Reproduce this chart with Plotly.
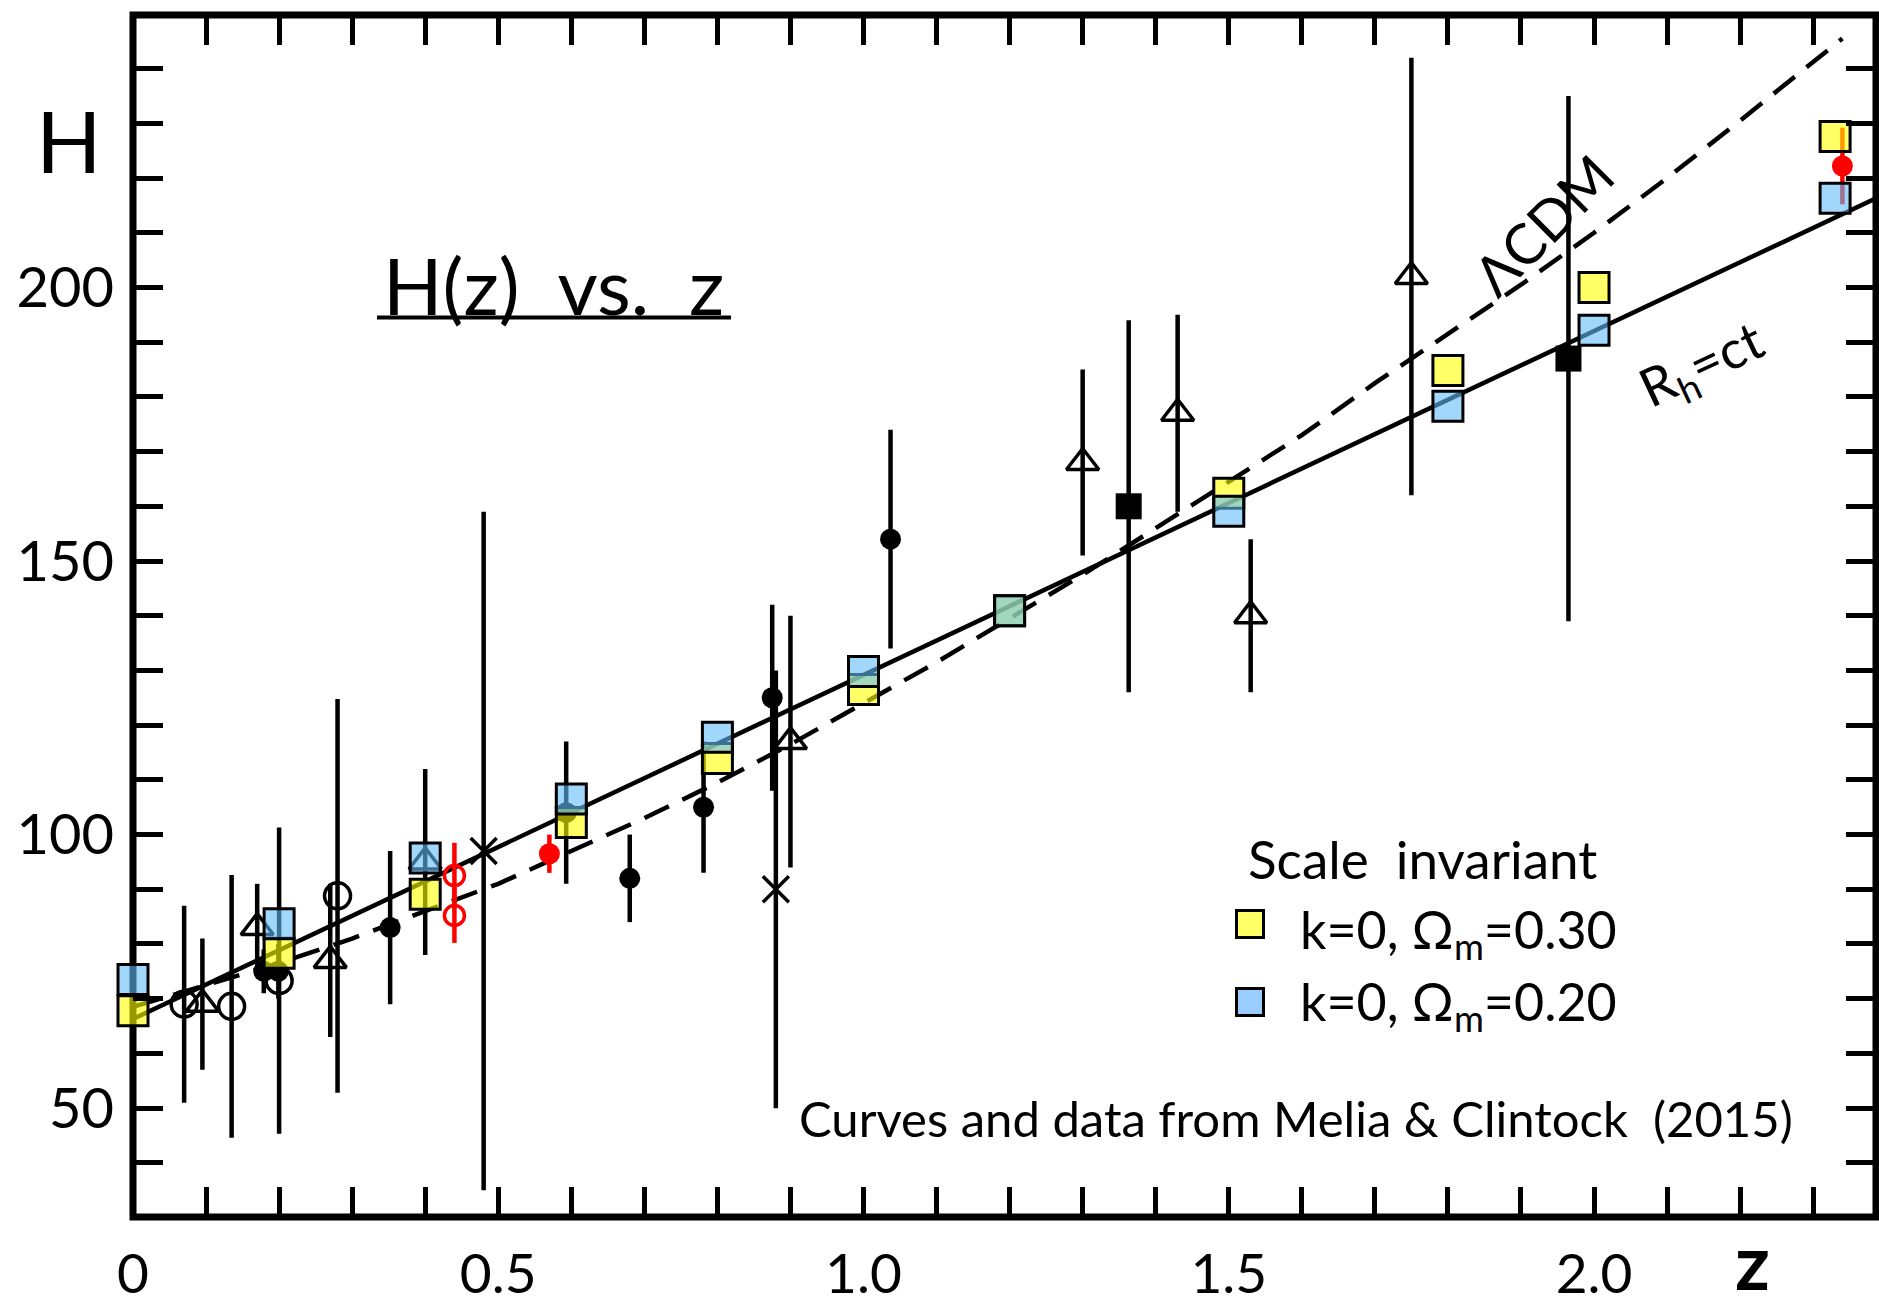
import plotly.graph_objects as go

# ---------------- axis ticks ----------------
x_ticks = [0.0, 0.1, 0.2, 0.3, 0.4, 0.5, 0.6, 0.7, 0.8, 0.9, 1.0, 1.1, 1.2,
           1.3, 1.4, 1.5, 1.6, 1.7, 1.8, 1.9, 2.0, 2.1, 2.2, 2.3]
x_tick_labels = ["0", "", "", "", "", "0.5", "", "", "", "", "1.0", "", "",
                 "", "", "1.5", "", "", "", "", "2.0", "", "", ""]
y_ticks = [40, 50, 60, 70, 80, 90, 100, 110, 120, 130, 140, 150, 160, 170,
           180, 190, 200, 210, 220, 230, 240]
y_tick_labels = ["", "50", "", "", "", "", "100", "", "", "", "", "150", "",
                 "", "", "", "200", "", "", "", ""]

# ---------------- model curves ----------------
lcdm_z = [0.0, 0.1, 0.2, 0.3, 0.4, 0.5, 0.6, 0.7, 0.8, 0.9, 1.0, 1.1, 1.2,
          1.3, 1.4, 1.5, 1.6, 1.7, 1.8, 1.9, 2.0, 2.1, 2.2, 2.34]
lcdm_H = [68.5, 72.5, 76.5, 81.0, 86.0, 91.0, 97.0, 103.0, 109.5, 116.5,
          124.0, 131.5, 139.5, 147.5, 156.0, 164.5, 173.0, 182.5, 191.5,
          200.5, 210.0, 220.0, 230.5, 245.5]
rh_z = [0.0, 0.6, 1.2, 1.8, 2.386]
rh_H = [66.3, 104.0, 141.7, 179.3, 216.3]

# ---------------- scale-invariant model points ----------------
si_z = [0.0, 0.2, 0.4, 0.6, 0.8, 1.0, 1.2, 1.5, 1.8, 2.0, 2.33]
si_H_030 = [67.8, 78.3, 89.1, 102.2, 113.9, 126.5, 140.9, 162.4, 184.8, 200.0, 227.6]
si_H_020 = [73.5, 83.7, 95.7, 106.5, 117.8, 129.8, 140.9, 159.1, 178.3, 192.2, 216.3]

# ---------------- observational data ----------------
# open circles
oc_z = [0.07, 0.135, 0.2, 0.28]
oc_H = [69.0, 68.6, 73.3, 88.8]
oc_err = [18.0, 24.0, 28.0, 36.0]
# open triangles
tri_z = [0.095, 0.17, 0.27, 0.40, 0.90, 1.30, 1.43, 1.53, 1.75]
tri_H = [69.0, 83.0, 77.0, 95.0, 117.0, 168.0, 177.0, 140.0, 202.0]
tri_err = [12.0, 8.0, 14.0, 17.0, 23.0, 17.0, 18.0, 14.0, 40.0]
# crosses
cr_z = [0.48, 0.88]
cr_H = [97.0, 90.0]
cr_err = [62.0, 40.0]
# filled circles
fc_z = [0.179, 0.199, 0.352, 0.593, 0.68, 0.781, 0.875, 1.037]
fc_H = [75.0, 75.0, 83.0, 104.0, 92.0, 105.0, 125.0, 154.0]
fc_err = [4.0, 5.0, 14.0, 13.0, 8.0, 12.0, 17.0, 20.0]
# filled black squares
bs_z = [1.363, 1.965]
bs_H = [160.0, 187.0]
bs_err = [34.0, 48.0]
# red open circles
ro_z = [0.44, 0.44]
ro_H = [92.5, 85.2]
ro_err = [6.0, 5.0]
# red filled circles
rf_z = [0.57, 2.34]
rf_H = [96.5, 222.2]
rf_err = [3.5, 7.0]

FONT = "Lato"

fig = go.Figure()

fig.add_trace(go.Scatter(x=lcdm_z, y=lcdm_H, mode="lines",
                         line=dict(color="black", width=4.5, dash="27px,15px"),
                         hoverinfo="skip"))
fig.add_trace(go.Scatter(x=rh_z, y=rh_H, mode="lines",
                         line=dict(color="black", width=4.5),
                         hoverinfo="skip"))


def add_points(z, H, err, symbol, size, color, lw):
    fig.add_trace(go.Scatter(
        x=z, y=H, mode="markers",
        error_y=dict(type="data", array=err, visible=True, color=color,
                     thickness=4.5, width=0),
        marker=dict(symbol=symbol, size=size, color=color,
                    line=dict(color=color, width=lw)),
        hoverinfo="skip"))


add_points(oc_z, oc_H, oc_err, "circle-open", 26, "black", 3.5)
add_points(tri_z, tri_H, tri_err, "triangle-up-open", 28, "black", 3.5)
add_points(cr_z, cr_H, cr_err, "x-thin-open", 26, "black", 3.5)
add_points(fc_z, fc_H, fc_err, "circle", 21, "black", 0)
add_points(bs_z, bs_H, bs_err, "square", 26, "black", 0)
add_points(ro_z, ro_H, ro_err, "circle-open", 20, "red", 3.5)
add_points(rf_z, rf_H, rf_err, "circle", 21, "red", 0)

fig.add_trace(go.Scatter(x=si_z, y=si_H_030, mode="markers", cliponaxis=False,
                         marker=dict(symbol="square", size=30,
                                     color="rgba(255,255,0,0.6)",
                                     line=dict(color="black", width=3)),
                         hoverinfo="skip"))
fig.add_trace(go.Scatter(x=si_z, y=si_H_020, mode="markers", cliponaxis=False,
                         marker=dict(symbol="square", size=30,
                                     color="rgba(97,188,247,0.6)",
                                     line=dict(color="black", width=3)),
                         hoverinfo="skip"))

fig.update_layout(
    width=1879, height=1308,
    margin=dict(l=133, r=3, t=15, b=89),
    paper_bgcolor="white", plot_bgcolor="white",
    showlegend=False,
    font=dict(family=FONT, color="black"),
)
fig.update_xaxes(range=[0, 2.386], tickmode="array", tickvals=x_ticks,
                 ticktext=x_tick_labels, ticks="inside", ticklen=30,
                 tickwidth=5, tickcolor="black", mirror="ticks",
                 showgrid=False, zeroline=False, showline=False,
                 tickfont=dict(family=FONT, size=55, color="black"),
                 ticklabelstandoff=20)
fig.update_yaxes(range=[30.1, 249.8], tickmode="array", tickvals=y_ticks,
                 ticktext=y_tick_labels, ticks="inside", ticklen=30,
                 tickwidth=5, tickcolor="black", mirror="ticks",
                 showgrid=False, zeroline=False, showline=False,
                 tickfont=dict(family=FONT, size=56, color="black"),
                 ticklabelstandoff=18)

# frame
fig.add_shape(type="rect", xref="paper", yref="paper", x0=0, y0=0, x1=1, y1=1,
              line=dict(color="black", width=7), layer="below")
# underline of title
fig.add_shape(type="line", xref="paper", yref="paper", x0=0.140, x1=0.3431,
              y0=0.7483, y1=0.7483, line=dict(color="black", width=4))

ann = []
ann.append(dict(text="H", xref="paper", yref="paper", x=-0.0367, y=0.8962,
                xanchor="center", yanchor="middle", showarrow=False,
                font=dict(family=FONT, size=86, color="black")))
ann.append(dict(text="<b>z</b>", xref="paper", yref="paper", x=0.9289, y=-0.036,
                xanchor="center", yanchor="middle", showarrow=False,
                font=dict(family=FONT, size=76, color="black")))
ann.append(dict(text="H(z)\u00a0\u00a0vs.\u00a0\u00a0z", xref="paper", yref="paper",
                x=0.1423, y=0.775, xanchor="left", yanchor="middle",
                showarrow=False, font=dict(family=FONT, size=78, color="black")))
ann.append(dict(text="\u039bCDM", xref="x", yref="y", x=1.93, y=211.5,
                xanchor="center", yanchor="middle", textangle=-45,
                showarrow=False, font=dict(family=FONT, size=56, color="black")))
ann.append(dict(text="R<sub>h</sub>=ct", xref="x", yref="y", x=2.148, y=185.5,
                xanchor="center", yanchor="middle", textangle=-25,
                showarrow=False, font=dict(family=FONT, size=53, color="black")))
ann.append(dict(text="Scale\u00a0\u00a0invariant", xref="paper", yref="paper",
                x=0.6386, y=0.2982, xanchor="left", yanchor="middle",
                showarrow=False, font=dict(family=FONT, size=53, color="black")))
ann.append(dict(text="k=0, \u03a9<sub>m</sub>=0.30", xref="paper", yref="paper",
                x=0.6684, y=0.2359, xanchor="left", yanchor="middle",
                showarrow=False, font=dict(family=FONT, size=52, color="black")))
ann.append(dict(text="k=0, \u03a9<sub>m</sub>=0.20", xref="paper", yref="paper",
                x=0.6684, y=0.1761, xanchor="left", yanchor="middle",
                showarrow=False, font=dict(family=FONT, size=52, color="black")))
ann.append(dict(text=" ", xref="paper", yref="paper", x=0.6409, y=0.2434,
                xanchor="center", yanchor="middle", showarrow=False,
                width=24, height=24, borderpad=0, borderwidth=3,
                bordercolor="black", bgcolor="#FFFF66",
                font=dict(size=10)))
ann.append(dict(text=" ", xref="paper", yref="paper", x=0.6409, y=0.1786,
                xanchor="center", yanchor="middle", showarrow=False,
                width=24, height=24, borderpad=0, borderwidth=3,
                bordercolor="black", bgcolor="#99CCFF",
                font=dict(size=10)))
ann.append(dict(text="Curves and data from Melia &amp; Clintock\u00a0\u00a0(2015)",
                xref="paper", yref="paper", x=0.381, y=0.0822,
                xanchor="left", yanchor="middle", showarrow=False,
                font=dict(family=FONT, size=49, color="black")))
fig.update_layout(annotations=ann)

fig.write_html("out.html", config={"displayModeBar": False})
